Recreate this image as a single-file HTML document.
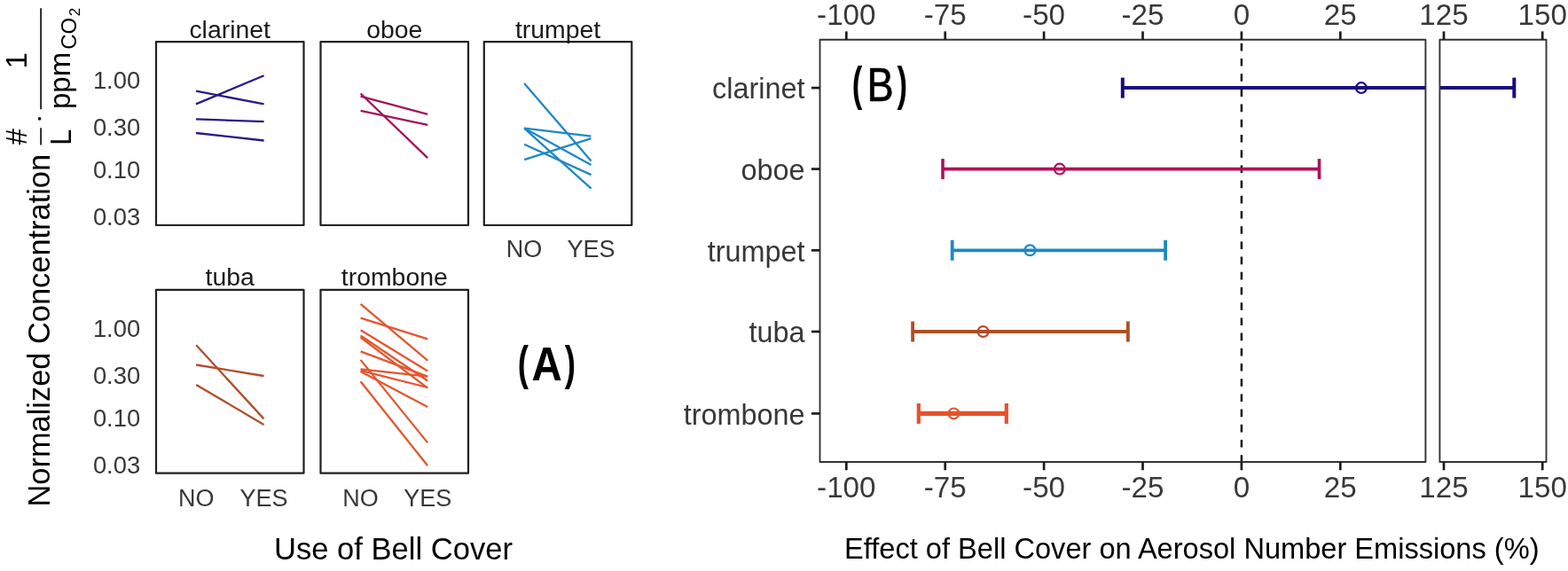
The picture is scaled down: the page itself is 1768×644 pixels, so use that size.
<!DOCTYPE html>
<html><head><meta charset="utf-8"><title>Bell cover figure</title>
<style>
html,body{margin:0;padding:0;background:#fff;}
body{width:1768px;height:644px;overflow:hidden;}
svg{display:block;font-family:"Liberation Sans", Arial, sans-serif;}
</style></head><body>
<svg width="1768" height="644" viewBox="0 0 1768 644">
<rect width="1768" height="644" fill="#fff"/>
<line x1="221.0" y1="117.4" x2="297.6" y2="85.2" stroke="#2a1885" stroke-width="2.3" stroke-linecap="butt"/>
<line x1="221.0" y1="102.6" x2="297.6" y2="117.4" stroke="#2a1885" stroke-width="2.3" stroke-linecap="butt"/>
<line x1="221.0" y1="134.4" x2="297.6" y2="137.1" stroke="#2a1885" stroke-width="2.3" stroke-linecap="butt"/>
<line x1="221.0" y1="150.0" x2="297.6" y2="158.5" stroke="#2a1885" stroke-width="2.3" stroke-linecap="butt"/>
<rect x="176.0" y="47.1" width="166.5" height="206.9" fill="none" stroke="#202020" stroke-width="2.2" stroke-linejoin="round"/>
<text x="259.2" y="42.7" font-size="28.4" text-anchor="middle" fill="#1a1a1a">clarinet</text>
<line x1="406.6" y1="105.5" x2="482.2" y2="178.2" stroke="#a3155a" stroke-width="2.3" stroke-linecap="butt"/>
<line x1="406.6" y1="108.6" x2="482.2" y2="128.8" stroke="#a3155a" stroke-width="2.3" stroke-linecap="butt"/>
<line x1="406.6" y1="124.9" x2="482.2" y2="140.9" stroke="#a3155a" stroke-width="2.3" stroke-linecap="butt"/>
<rect x="361.5" y="47.1" width="166.5" height="206.9" fill="none" stroke="#202020" stroke-width="2.2" stroke-linejoin="round"/>
<text x="444.8" y="42.7" font-size="28.4" text-anchor="middle" fill="#1a1a1a">oboe</text>
<line x1="591.1" y1="94.1" x2="666.5" y2="181.6" stroke="#1f88c2" stroke-width="2.3" stroke-linecap="butt"/>
<line x1="591.1" y1="144.6" x2="666.5" y2="153.7" stroke="#1f88c2" stroke-width="2.3" stroke-linecap="butt"/>
<line x1="591.1" y1="144.6" x2="666.5" y2="186.0" stroke="#1f88c2" stroke-width="2.3" stroke-linecap="butt"/>
<line x1="591.1" y1="144.6" x2="666.5" y2="212.7" stroke="#1f88c2" stroke-width="2.3" stroke-linecap="butt"/>
<line x1="591.1" y1="162.8" x2="666.5" y2="197.1" stroke="#1f88c2" stroke-width="2.3" stroke-linecap="butt"/>
<line x1="591.1" y1="180.2" x2="666.5" y2="156.1" stroke="#1f88c2" stroke-width="2.3" stroke-linecap="butt"/>
<rect x="545.8" y="47.1" width="166.5" height="206.9" fill="none" stroke="#202020" stroke-width="2.2" stroke-linejoin="round"/>
<text x="629.0" y="42.7" font-size="28.4" text-anchor="middle" fill="#1a1a1a">trumpet</text>
<line x1="221.2" y1="389.2" x2="297.5" y2="472.4" stroke="#b04e2a" stroke-width="2.3" stroke-linecap="butt"/>
<line x1="221.2" y1="411.5" x2="297.5" y2="424.0" stroke="#b04e2a" stroke-width="2.3" stroke-linecap="butt"/>
<line x1="221.2" y1="433.9" x2="297.5" y2="478.9" stroke="#b04e2a" stroke-width="2.3" stroke-linecap="butt"/>
<rect x="176.0" y="326.8" width="166.5" height="206.9" fill="none" stroke="#202020" stroke-width="2.2" stroke-linejoin="round"/>
<text x="259.2" y="322.4" font-size="28.4" text-anchor="middle" fill="#1a1a1a">tuba</text>
<line x1="406.6" y1="342.8" x2="482.2" y2="406.6" stroke="#e4562f" stroke-width="2.3" stroke-linecap="butt"/>
<line x1="406.6" y1="358.7" x2="482.2" y2="382.4" stroke="#e4562f" stroke-width="2.3" stroke-linecap="butt"/>
<line x1="406.6" y1="372.3" x2="482.2" y2="418.4" stroke="#e4562f" stroke-width="2.3" stroke-linecap="butt"/>
<line x1="406.6" y1="378.5" x2="482.2" y2="429.5" stroke="#e4562f" stroke-width="2.3" stroke-linecap="butt"/>
<line x1="406.6" y1="380.5" x2="482.2" y2="437.6" stroke="#e4562f" stroke-width="2.3" stroke-linecap="butt"/>
<line x1="406.6" y1="396.4" x2="482.2" y2="424.6" stroke="#e4562f" stroke-width="2.3" stroke-linecap="butt"/>
<line x1="406.6" y1="405.9" x2="482.2" y2="499.4" stroke="#e4562f" stroke-width="2.3" stroke-linecap="butt"/>
<line x1="406.6" y1="416.3" x2="482.2" y2="424.6" stroke="#e4562f" stroke-width="2.3" stroke-linecap="butt"/>
<line x1="406.6" y1="417.8" x2="482.2" y2="437.0" stroke="#e4562f" stroke-width="2.3" stroke-linecap="butt"/>
<line x1="406.6" y1="419.0" x2="482.2" y2="459.0" stroke="#e4562f" stroke-width="2.3" stroke-linecap="butt"/>
<line x1="406.6" y1="430.2" x2="482.2" y2="525.3" stroke="#e4562f" stroke-width="2.3" stroke-linecap="butt"/>
<rect x="361.5" y="326.8" width="166.5" height="206.9" fill="none" stroke="#202020" stroke-width="2.2" stroke-linejoin="round"/>
<text x="444.8" y="322.4" font-size="28.4" text-anchor="middle" fill="#1a1a1a">trombone</text>
<text x="158.2" y="100.0" font-size="27.4" text-anchor="end" fill="#383838">1.00</text>
<text x="158.2" y="153.1" font-size="27.4" text-anchor="end" fill="#383838">0.30</text>
<text x="158.2" y="201.1" font-size="27.4" text-anchor="end" fill="#383838">0.10</text>
<text x="158.2" y="254.0" font-size="27.4" text-anchor="end" fill="#383838">0.03</text>
<text x="158.2" y="379.7" font-size="27.4" text-anchor="end" fill="#383838">1.00</text>
<text x="158.2" y="432.8" font-size="27.4" text-anchor="end" fill="#383838">0.30</text>
<text x="158.2" y="480.8" font-size="27.4" text-anchor="end" fill="#383838">0.10</text>
<text x="158.2" y="533.7" font-size="27.4" text-anchor="end" fill="#383838">0.03</text>
<text x="591.1" y="290.4" font-size="27" text-anchor="middle" fill="#383838">NO</text>
<text x="666.5" y="290.4" font-size="27" text-anchor="middle" fill="#383838">YES</text>
<text x="221.2" y="570.7" font-size="27" text-anchor="middle" fill="#383838">NO</text>
<text x="297.5" y="570.7" font-size="27" text-anchor="middle" fill="#383838">YES</text>
<text x="406.6" y="570.7" font-size="27" text-anchor="middle" fill="#383838">NO</text>
<text x="482.2" y="570.7" font-size="27" text-anchor="middle" fill="#383838">YES</text>
<text x="443.5" y="631" font-size="34.6" text-anchor="middle" fill="#000">Use of Bell Cover</text>
<text transform="translate(55.6,571.5) rotate(-90)" font-size="34.4" fill="#000">Normalized Concentration</text>
<text transform="translate(29.8,163.4) rotate(-90)" font-size="33" fill="#000">#</text>
<line x1="46.1" y1="144.3" x2="46.1" y2="163.4" stroke="#000" stroke-width="1.6"/>
<text transform="translate(79.5,164.1) rotate(-90)" font-size="33" fill="#000">L</text>
<circle cx="44.6" cy="133.9" r="1.8" fill="#000"/>
<text transform="translate(29.5,77.5) rotate(-90)" font-size="33" fill="#000">1</text>
<line x1="46.1" y1="9.3" x2="46.1" y2="123.3" stroke="#000" stroke-width="1.6"/>
<text transform="translate(79.2,123) rotate(-90)" font-size="33" fill="#000">ppm<tspan font-size="24" dy="7" dx="3">CO</tspan><tspan font-size="17" dy="4" dx="1.5">2</tspan></text>
<text transform="translate(583.66,427.64) scale(0.690,1)" font-size="53.30" font-weight="bold" fill="#000">(</text>
<text transform="translate(599.61,428.50) scale(0.894,1)" font-size="53.09" font-weight="bold" fill="#000">A</text>
<text transform="translate(636.81,427.64) scale(0.690,1)" font-size="53.30" font-weight="bold" fill="#000">)</text>
<line x1="1399.9" y1="521.0" x2="1399.9" y2="44.8" stroke="#000" stroke-width="2.4" stroke-dasharray="8.6 8.6" stroke-dashoffset="0.8"/>
<line x1="1265.8" y1="99.1" x2="1607.4" y2="99.1" stroke="#1a0b80" stroke-width="4.0"/>
<line x1="1623.4" y1="99.1" x2="1707.3" y2="99.1" stroke="#1a0b80" stroke-width="4.0"/>
<line x1="1707.3" y1="87.6" x2="1707.3" y2="110.6" stroke="#1a0b80" stroke-width="4.0"/>
<line x1="1265.8" y1="87.6" x2="1265.8" y2="110.6" stroke="#1a0b80" stroke-width="4.0"/>
<circle cx="1534.9" cy="99.1" r="5.9" fill="none" stroke="#1a0b80" stroke-width="2.2"/>
<line x1="1063.0" y1="190.6" x2="1487.5" y2="190.6" stroke="#b0115a" stroke-width="3.6"/>
<line x1="1487.5" y1="179.1" x2="1487.5" y2="202.1" stroke="#b0115a" stroke-width="3.6"/>
<line x1="1063.0" y1="179.1" x2="1063.0" y2="202.1" stroke="#b0115a" stroke-width="3.6"/>
<circle cx="1194.8" cy="190.6" r="5.9" fill="none" stroke="#b0115a" stroke-width="2.2"/>
<line x1="1073.7" y1="282.3" x2="1314.1" y2="282.3" stroke="#1f88c2" stroke-width="3.8"/>
<line x1="1314.1" y1="270.8" x2="1314.1" y2="293.8" stroke="#1f88c2" stroke-width="3.8"/>
<line x1="1073.7" y1="270.8" x2="1073.7" y2="293.8" stroke="#1f88c2" stroke-width="3.8"/>
<circle cx="1161.4" cy="282.3" r="5.9" fill="none" stroke="#1f88c2" stroke-width="2.2"/>
<line x1="1029.1" y1="374.0" x2="1271.9" y2="374.0" stroke="#b04e26" stroke-width="3.8"/>
<line x1="1271.9" y1="362.5" x2="1271.9" y2="385.5" stroke="#b04e26" stroke-width="3.8"/>
<line x1="1029.1" y1="362.5" x2="1029.1" y2="385.5" stroke="#b04e26" stroke-width="3.8"/>
<circle cx="1108.5" cy="374.0" r="5.9" fill="none" stroke="#b04e26" stroke-width="2.2"/>
<line x1="1035.8" y1="466.4" x2="1134.8" y2="466.4" stroke="#e6522c" stroke-width="5.2"/>
<line x1="1134.8" y1="454.9" x2="1134.8" y2="477.9" stroke="#e6522c" stroke-width="4.2"/>
<line x1="1035.8" y1="454.9" x2="1035.8" y2="477.9" stroke="#e6522c" stroke-width="4.2"/>
<circle cx="1075.4" cy="466.4" r="5.9" fill="none" stroke="#e6522c" stroke-width="2.2"/>
<rect x="924.5" y="44.8" width="682.9" height="476.2" fill="none" stroke="#333333" stroke-width="1.9" stroke-linejoin="round"/>
<rect x="1623.4" y="44.8" width="120.1" height="476.2" fill="none" stroke="#333333" stroke-width="1.9" stroke-linejoin="round"/>
<line x1="954.3" y1="35.4" x2="954.3" y2="44.8" stroke="#1c1c1c" stroke-width="2.7"/>
<line x1="954.3" y1="521.0" x2="954.3" y2="530.3" stroke="#1c1c1c" stroke-width="2.7"/>
<text x="954.3" y="28.4" font-size="33.2" text-anchor="middle" fill="#383838">-100</text>
<text x="954.3" y="561.0" font-size="33.2" text-anchor="middle" fill="#383838">-100</text>
<line x1="1065.7" y1="35.4" x2="1065.7" y2="44.8" stroke="#1c1c1c" stroke-width="2.7"/>
<line x1="1065.7" y1="521.0" x2="1065.7" y2="530.3" stroke="#1c1c1c" stroke-width="2.7"/>
<text x="1065.7" y="28.4" font-size="33.2" text-anchor="middle" fill="#383838">-75</text>
<text x="1065.7" y="561.0" font-size="33.2" text-anchor="middle" fill="#383838">-75</text>
<line x1="1177.1" y1="35.4" x2="1177.1" y2="44.8" stroke="#1c1c1c" stroke-width="2.7"/>
<line x1="1177.1" y1="521.0" x2="1177.1" y2="530.3" stroke="#1c1c1c" stroke-width="2.7"/>
<text x="1177.1" y="28.4" font-size="33.2" text-anchor="middle" fill="#383838">-50</text>
<text x="1177.1" y="561.0" font-size="33.2" text-anchor="middle" fill="#383838">-50</text>
<line x1="1288.5" y1="35.4" x2="1288.5" y2="44.8" stroke="#1c1c1c" stroke-width="2.7"/>
<line x1="1288.5" y1="521.0" x2="1288.5" y2="530.3" stroke="#1c1c1c" stroke-width="2.7"/>
<text x="1288.5" y="28.4" font-size="33.2" text-anchor="middle" fill="#383838">-25</text>
<text x="1288.5" y="561.0" font-size="33.2" text-anchor="middle" fill="#383838">-25</text>
<line x1="1399.9" y1="35.4" x2="1399.9" y2="44.8" stroke="#1c1c1c" stroke-width="2.7"/>
<line x1="1399.9" y1="521.0" x2="1399.9" y2="530.3" stroke="#1c1c1c" stroke-width="2.7"/>
<text x="1399.9" y="28.4" font-size="33.2" text-anchor="middle" fill="#383838">0</text>
<text x="1399.9" y="561.0" font-size="33.2" text-anchor="middle" fill="#383838">0</text>
<line x1="1511.3" y1="35.4" x2="1511.3" y2="44.8" stroke="#1c1c1c" stroke-width="2.7"/>
<line x1="1511.3" y1="521.0" x2="1511.3" y2="530.3" stroke="#1c1c1c" stroke-width="2.7"/>
<text x="1511.3" y="28.4" font-size="33.2" text-anchor="middle" fill="#383838">25</text>
<text x="1511.3" y="561.0" font-size="33.2" text-anchor="middle" fill="#383838">25</text>
<line x1="1628.0" y1="35.4" x2="1628.0" y2="44.8" stroke="#1c1c1c" stroke-width="2.7"/>
<line x1="1628.0" y1="521.0" x2="1628.0" y2="530.3" stroke="#1c1c1c" stroke-width="2.7"/>
<text x="1628.0" y="28.4" font-size="33.2" text-anchor="middle" fill="#383838">125</text>
<text x="1628.0" y="561.0" font-size="33.2" text-anchor="middle" fill="#383838">125</text>
<line x1="1739.2" y1="35.4" x2="1739.2" y2="44.8" stroke="#1c1c1c" stroke-width="2.7"/>
<line x1="1739.2" y1="521.0" x2="1739.2" y2="530.3" stroke="#1c1c1c" stroke-width="2.7"/>
<text x="1739.2" y="28.4" font-size="33.2" text-anchor="middle" fill="#383838">150</text>
<text x="1739.2" y="561.0" font-size="33.2" text-anchor="middle" fill="#383838">150</text>
<line x1="914.9" y1="99.1" x2="924.5" y2="99.1" stroke="#1c1c1c" stroke-width="2.7"/>
<text x="907.5" y="111.3" font-size="32.4" text-anchor="end" fill="#383838">clarinet</text>
<line x1="914.9" y1="190.6" x2="924.5" y2="190.6" stroke="#1c1c1c" stroke-width="2.7"/>
<text x="907.5" y="202.8" font-size="32.4" text-anchor="end" fill="#383838">oboe</text>
<line x1="914.9" y1="282.3" x2="924.5" y2="282.3" stroke="#1c1c1c" stroke-width="2.7"/>
<text x="907.5" y="294.5" font-size="32.4" text-anchor="end" fill="#383838">trumpet</text>
<line x1="914.9" y1="374.0" x2="924.5" y2="374.0" stroke="#1c1c1c" stroke-width="2.7"/>
<text x="907.5" y="386.2" font-size="32.4" text-anchor="end" fill="#383838">tuba</text>
<line x1="914.9" y1="466.4" x2="924.5" y2="466.4" stroke="#1c1c1c" stroke-width="2.7"/>
<text x="907.5" y="478.6" font-size="32.4" text-anchor="end" fill="#383838">trombone</text>
<text x="1343.8" y="630" font-size="32.6" text-anchor="middle" fill="#000">Effect of Bell Cover on Aerosol Number Emissions (%)</text>
<text transform="translate(960.87,112.52) scale(0.649,1)" font-size="53.40" font-weight="bold" fill="#000">(</text>
<text transform="translate(977.47,113.90) scale(0.843,1)" font-size="53.67" font-weight="normal" fill="#000" stroke="#000" stroke-width="0.7">B</text>
<text transform="translate(1011.41,112.52) scale(0.649,1)" font-size="53.40" font-weight="bold" fill="#000">)</text>
</svg>
</body></html>
